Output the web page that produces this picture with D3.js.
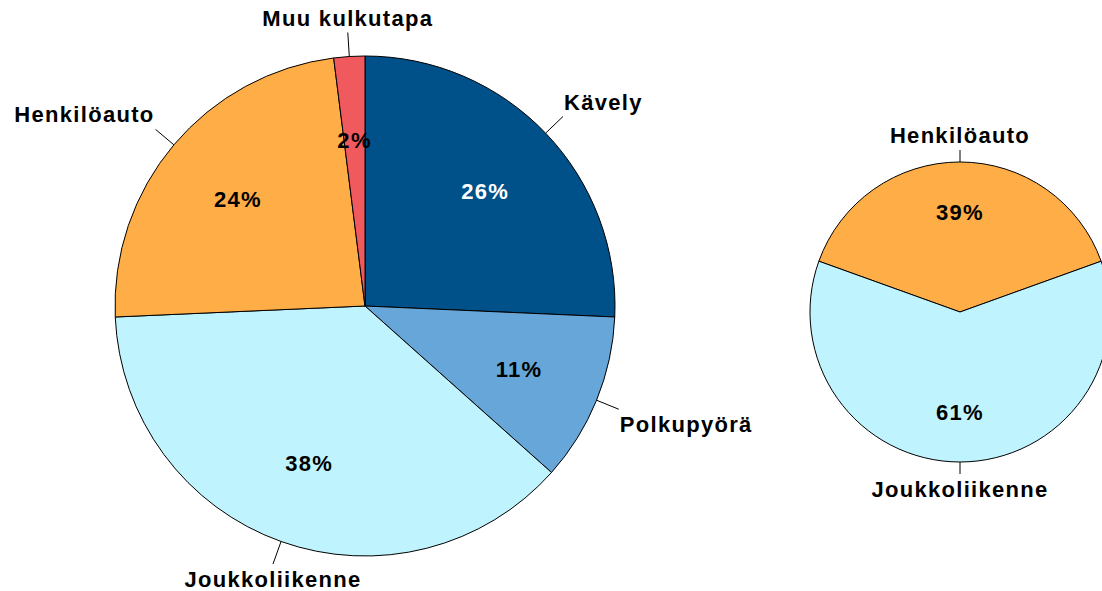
<!DOCTYPE html>
<html>
<head>
<meta charset="utf-8">
<script src="https://cdn.jsdelivr.net/npm/d3@7"></script>
<style>
  body { margin: 0; background: #fff; }
  svg text { font-family: "Liberation Sans", Arial, sans-serif; font-weight: bold; font-size: 22px; letter-spacing: 1.3px; }
</style>
</head>
<body>
<div id="canvas"></div>
<script>
// left pie: all trips
const leftCategories = ["Kävely", "Polkupyörä", "Joukkoliikenne", "Henkilöauto", "Muu kulkutapa"];
const leftValues = [25.7, 10.9, 37.7, 23.7, 2.0];
const leftColors = ["#00508A", "#66A6D9", "#BFF4FF", "#FFAD47", "#F05A5E"];
const leftTextColors = ["#fff", "#000", "#000", "#000", "#000"];

// right pie: motorised only
const rightCategories = ["Henkilöauto", "Joukkoliikenne"];
const rightValues = [39, 61];
const rightColors = ["#FFAD47", "#BFF4FF"];

const width = 1102;
const height = 591;

const svg = d3.select("#canvas").append("svg")
  .attr("width", width)
  .attr("height", height);

function drawPie(cx, cy, r, lead, cats, vals, colors, textColors, startAngle) {
  const total = d3.sum(vals);
  const pie = d3.pie().sort(null).value(d => d.v)
    .startAngle(startAngle).endAngle(startAngle + 2 * Math.PI);
  const data = pie(cats.map((c, i) => ({ c: c, v: vals[i], i: i })));

  const arc = d3.arc().innerRadius(0).outerRadius(r);
  const labelArc = d3.arc().innerRadius(r * 0.665).outerRadius(r * 0.665);

  const g = svg.append("g").attr("transform", `translate(${cx},${cy})`);

  g.selectAll("path.slice").data(data).enter()
    .append("path")
    .attr("class", "slice")
    .attr("d", arc)
    .attr("fill", d => colors[d.data.i])
    .attr("stroke", "#000")
    .attr("stroke-width", 1);

  // percentages inside
  g.selectAll("text.pct").data(data).enter()
    .append("text")
    .attr("class", "pct")
    .attr("x", d => labelArc.centroid(d)[0])
    .attr("y", d => labelArc.centroid(d)[1])
    .attr("dy", "0.36em")
    .attr("text-anchor", "middle")
    .attr("fill", d => textColors ? textColors[d.data.i] : "#000")
    .text(d => Math.round(d.data.v / total * 100) + "%");

  // leader lines + category names
  data.forEach(d => {
    const a = (d.startAngle + d.endAngle) / 2;
    const s = Math.sin(a), c = Math.cos(a);
    const x0 = r * s, y0 = -r * c;
    const x1 = (r + lead) * s, y1 = -(r + lead) * c;
    g.append("line")
      .attr("x1", x0).attr("y1", y0)
      .attr("x2", x1).attr("y2", y1)
      .attr("stroke", "#000").attr("stroke-width", 1);

    let anchor = "middle", tx = x1;
    if (Math.abs(s) >= 0.35) {
      anchor = s > 0 ? "start" : "end";
      tx = s > 0 ? x1 + 1 : x1 - 1;
    }
    const ty = c > 0 ? y1 - 7 : y1 + 23;
    g.append("text")
      .attr("x", tx)
      .attr("y", ty)
      .attr("text-anchor", anchor)
      .attr("fill", "#000")
      .text(d.data.c);
  });
}

drawPie(365, 306, 250, 24, leftCategories, leftValues, leftColors, leftTextColors, 0);
drawPie(960, 312, 150, 12, rightCategories, rightValues, rightColors, null,
  -Math.PI * rightValues[0] / d3.sum(rightValues));
</script>
</body>
</html>
